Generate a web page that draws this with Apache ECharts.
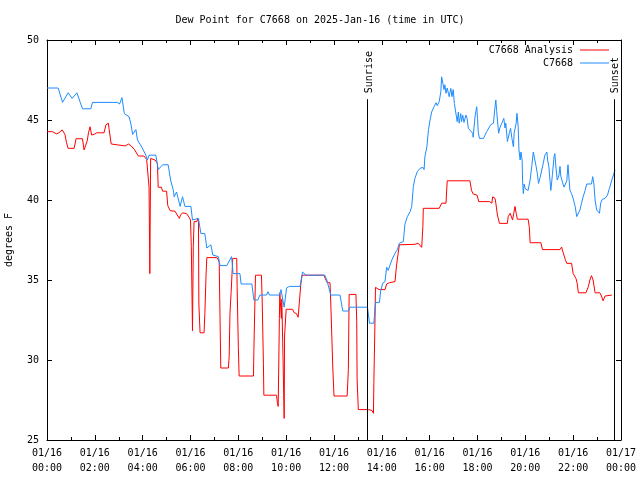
<!DOCTYPE html>
<html><head><meta charset="utf-8">
<script src="https://cdn.jsdelivr.net/npm/echarts@6/dist/echarts.min.js"></script>
<style>html,body{margin:0;padding:0;background:#fff}#c{width:640px;height:480px}</style>
</head><body><div id="c"></div>
<script>
const chartTitle = 'Dew Point for C7668 on 2025-Jan-16 (time in UTC)';
const yAxisTitle = 'degrees F';
const seriesNames = ['C7668 Analysis', 'C7668'];
const xTickLabels = ['01/16\n00:00','01/16\n02:00','01/16\n04:00','01/16\n06:00','01/16\n08:00','01/16\n10:00','01/16\n12:00','01/16\n14:00','01/16\n16:00','01/16\n18:00','01/16\n20:00','01/16\n22:00','01/17\n00:00'];
const yTicks = [25, 30, 35, 40, 45, 50];
// minutes since 2025-01-16 00:00 UTC
const sunriseMin = 804;
const sunsetMin = 1422;
const sunLabels = ['Sunrise', 'Sunset'];

// [minute, dew point F]
const analysisObs = [[0,44.27],[14,44.27],[24,44.13],[30,44.2],[38,44.38],[45,44.1],[49,43.58],[53,43.23],[68,43.23],[73,43.83],[89,43.83],[93,43.13],[98,43.15],[101,43.7],[104,44.2],[108,44.58],[112,44.06],[118,44.1],[125,44.2],[143,44.2],[148,44.7],[154,44.8],[156,44.4],[161,43.5],[166,43.38],[196,43.38],[201,43.3],[205,43.5],[211,43.38],[219,43.17],[223,43.17],[229,42.75],[243,42.75],[250,42.54],[255,42.5],[256,40.8],[258,35.4],[260,42.6],[271,42.5],[277,42.3],[279,40.8],[287,40.8],[290,40.55],[300,40.55],[303,39.65],[309,39.33],[321,39.3],[325,39.2],[332,38.85],[335,39.06],[340,39.2],[350,39.15],[357,38.9],[360,38.75],[362,37.1],[365,31.83],[367,37.1],[369,38.65],[376,38.65],[378,38.85],[380,38.65],[381,33.5],[384,31.7],[394,31.7],[396,32.9],[399,35.3],[401,36.4],[426,36.4],[430,36.25],[432,36.1],[434,32.8],[436,29.5],[455,29.5],[457,30.2],[459,32.9],[462,34.27],[466,36.35],[476,36.35],[477,34.6],[480,30.8],[482,29.0],[518,29.0],[519,30.6],[523,35.3],[538,35.3],[540,33.5],[543,29.7],[544,27.8],[576,27.8],[578,27.3],[580,27.1],[583,32.6],[584,34.2],[586,34.3],[588,32.6],[589,33.8],[591,31.5],[595,26.35],[596,31.5],[600,33.17],[616,33.17],[620,32.96],[626,32.9],[630,32.67],[635,32.67],[637,34.8],[640,35.3],[695,35.3],[698,35.1],[703,34.83],[710,34.83],[712,33.5],[717,29.5],[720,27.75],[753,27.75],[756,29.4],[758,34.1],[775,34.1],[777,32.4],[778,28.75],[781,26.9],[806,26.9],[815,26.85],[819,26.67],[820,28.6],[823,32.7],[824,34.54],[828,34.54],[833,34.4],[848,34.4],[852,34.75],[859,34.83],[873,34.9],[877,35.94],[881,36.67],[884,37.2],[923,37.23],[931,37.3],[936,37.2],[940,37.04],[943,38.33],[944,39.48],[984,39.48],[988,39.6],[990,39.8],[1001,39.8],[1004,41.2],[1061,41.2],[1065,40.6],[1069,40.38],[1079,40.3],[1083,39.9],[1110,39.9],[1116,39.8],[1118,40.2],[1124,40.1],[1126,39.8],[1130,39.06],[1135,38.54],[1155,38.54],[1157,38.96],[1162,39.17],[1165,39.1],[1168,38.75],[1171,39.17],[1174,39.6],[1177,39.17],[1180,38.8],[1207,38.8],[1210,38.3],[1212,37.33],[1239,37.33],[1243,36.9],[1287,36.9],[1291,37.06],[1295,36.7],[1300,36.3],[1304,36.04],[1316,36.04],[1320,35.4],[1327,35.1],[1330,34.8],[1333,34.2],[1352,34.2],[1358,34.58],[1362,35.0],[1366,35.27],[1370,35.0],[1375,34.2],[1387,34.2],[1391,34.0],[1395,33.7],[1400,34.0],[1404,34.0],[1417,34.06]];

const stationObs = [[0,47.0],[28,47.0],[39,46.1],[53,46.7],[63,46.35],[75,46.7],[89,45.7],[110,45.7],[114,46.1],[176,46.1],[182,46.0],[188,46.4],[194,45.4],[206,45.2],[210,44.8],[215,44.1],[223,44.4],[227,43.75],[238,43.3],[248,42.8],[252,42.5],[256,42.8],[263,42.8],[273,42.8],[279,41.9],[290,42.2],[304,42.2],[310,41.25],[317,40.6],[319,40.2],[325,40.5],[334,39.6],[340,40.2],[346,39.6],[361,39.6],[365,38.75],[380,38.85],[386,37.9],[396,37.9],[401,37.0],[411,37.2],[416,36.56],[430,36.46],[434,35.9],[451,35.9],[463,36.46],[467,35.4],[484,35.4],[487,34.75],[514,34.75],[519,33.75],[529,33.75],[534,34.06],[551,34.06],[554,34.27],[558,34.06],[583,34.06],[587,34.4],[595,33.3],[601,34.5],[608,34.6],[635,34.6],[641,35.5],[650,35.3],[697,35.3],[702,35.0],[712,34.06],[735,34.06],[742,33.06],[756,33.06],[760,33.3],[804,33.3],[809,32.3],[820,32.3],[824,33.6],[834,33.6],[837,34.3],[842,34.8],[848,34.9],[852,35.8],[856,35.6],[865,36.25],[873,36.67],[879,36.9],[884,37.3],[894,37.4],[898,38.5],[904,38.96],[911,39.27],[915,39.6],[919,40.83],[923,41.35],[929,41.77],[936,41.98],[943,42.04],[946,41.9],[948,42.7],[953,43.33],[957,44.4],[961,45.0],[965,45.5],[971,45.83],[976,46.08],[979,45.9],[984,46.15],[988,46.77],[990,47.7],[993,47.3],[996,46.9],[998,47.2],[1001,46.67],[1004,47.0],[1007,46.67],[1009,46.46],[1013,46.98],[1016,46.46],[1019,46.9],[1022,46.04],[1025,46.1],[1029,44.9],[1032,45.5],[1034,44.8],[1038,45.4],[1040,44.9],[1043,45.3],[1046,44.85],[1051,45.3],[1054,45.1],[1057,44.48],[1061,44.38],[1068,44.17],[1069,43.92],[1074,45.25],[1078,45.83],[1080,45.1],[1082,44.2],[1085,43.85],[1095,43.85],[1103,44.27],[1113,44.7],[1120,44.8],[1124,45.83],[1126,46.25],[1128,45.6],[1130,45.0],[1133,44.17],[1136,44.5],[1141,44.8],[1146,45.1],[1149,44.5],[1151,44.8],[1155,43.65],[1160,44.2],[1163,44.48],[1166,43.9],[1170,43.33],[1172,44.2],[1177,44.8],[1179,45.42],[1182,44.6],[1184,43.13],[1187,42.5],[1189,43.0],[1192,42.5],[1193,41.25],[1195,40.4],[1197,41.0],[1200,40.7],[1203,40.8],[1207,40.6],[1212,41.25],[1216,42.08],[1220,43.0],[1223,43.0],[1227,42.1],[1230,41.67],[1233,41.04],[1237,41.4],[1241,41.5],[1245,42.3],[1249,42.8],[1254,43.0],[1256,42.5],[1259,42.1],[1262,41.15],[1264,40.6],[1268,41.6],[1272,42.7],[1274,42.9],[1277,42.0],[1280,41.25],[1284,41.5],[1287,42.1],[1289,41.5],[1294,41.04],[1297,40.8],[1300,40.7],[1304,41.2],[1307,42.2],[1310,41.2],[1312,40.6],[1316,40.4],[1320,40.1],[1325,39.6],[1329,38.96],[1333,38.85],[1337,39.38],[1341,39.8],[1345,40.2],[1350,40.6],[1354,41.0],[1366,41.0],[1369,41.46],[1372,41.0],[1375,40.0],[1379,39.38],[1383,39.38],[1386,39.17],[1389,39.8],[1393,40.04],[1400,40.1],[1406,40.3],[1411,40.73],[1417,41.25],[1421,41.56],[1425,41.88]];

const FONT = 'DejaVu Sans Mono';
const chart = echarts.init(document.getElementById('c'), null, {renderer: 'canvas'});
const xCommon = {
  type: 'value', min: 0, max: 1440, interval: 120,
  axisLine: {show: true, onZero: false, lineStyle: {color: '#000', width: 1}},
  axisTick: {show: true, inside: true, length: 5, lineStyle: {color: '#000'}},
  minorTick: {show: true, splitNumber: 2, length: 3, lineStyle: {color: '#000'}},
  splitLine: {show: false}
};
const yCommon = {
  type: 'value', min: yTicks[0], max: yTicks[yTicks.length - 1], interval: yTicks[1] - yTicks[0],
  axisLine: {show: true, onZero: false, lineStyle: {color: '#000', width: 1}},
  axisTick: {show: true, inside: true, length: 5, lineStyle: {color: '#000'}},
  splitLine: {show: false}
};
const option = {
  animation: false,
  backgroundColor: '#fff',
  textStyle: {fontFamily: FONT},
  title: {text: chartTitle, left: 'center', top: 10,
    textStyle: {fontFamily: FONT, fontSize: 10, fontWeight: 'normal', color: '#000'}},
  grid: {left: 47, right: 19, top: 40, bottom: 40, show: false, containLabel: false, outerBoundsMode: 'none'},
  legend: {
    orient: 'vertical', right: 26, top: 40, align: 'right',
    icon: 'rect', itemWidth: 29, itemHeight: 1, itemGap: 3,
    textStyle: {fontFamily: FONT, fontSize: 10, color: '#000', lineHeight: 10, padding: [0, 2, 0, 0]},
    data: seriesNames
  },
  xAxis: [
    Object.assign({}, xCommon, {position: 'bottom',
      axisLabel: {show: true, color: '#000', fontFamily: FONT, fontSize: 10, lineHeight: 15, margin: 6,
        formatter: v => xTickLabels[Math.round(v / 120)]}}),
    Object.assign({}, xCommon, {position: 'top', axisLabel: {show: false}})
  ],
  yAxis: [
    Object.assign({}, yCommon, {position: 'left', name: yAxisTitle, nameLocation: 'middle', nameRotate: 90, nameGap: 33,
      nameTextStyle: {fontFamily: FONT, fontSize: 10, color: '#000'},
      axisLabel: {show: true, color: '#000', fontFamily: FONT, fontSize: 10, margin: 8}}),
    Object.assign({}, yCommon, {position: 'right', axisLabel: {show: false}})
  ],
  series: [
    {name: seriesNames[0], type: 'line', data: analysisObs, symbol: 'none', showSymbol: false,
      lineStyle: {color: '#ff0000', width: 1}, itemStyle: {color: '#ff0000'},
      markLine: {silent: true, symbol: 'none', animation: false,
        lineStyle: {color: '#000', width: 1, type: 'solid'}, label: {show: false},
        data: [
          [{coord: [sunriseMin, 46.3]}, {coord: [sunriseMin, yTicks[0]]}],
          [{coord: [sunsetMin, 46.3]}, {coord: [sunsetMin, yTicks[0]]}]
        ]}},
    {name: seriesNames[1], type: 'line', data: stationObs, symbol: 'none', showSymbol: false,
      lineStyle: {color: '#1e8cff', width: 1}, itemStyle: {color: '#1e8cff'}}
  ]
};
chart.setOption(option);
const pR = chart.convertToPixel({xAxisIndex: 0, yAxisIndex: 0}, [sunriseMin, 46.3]);
const pS = chart.convertToPixel({xAxisIndex: 0, yAxisIndex: 0}, [sunsetMin, 46.3]);
chart.setOption({
  graphic: [
    {type: 'text', x: pR[0] + 1.5, y: pR[1] - 6, rotation: Math.PI / 2,
      style: {text: sunLabels[0], font: '10px ' + FONT, fill: '#000', align: 'left', verticalAlign: 'middle'}},
    {type: 'text', x: pS[0] + 2, y: pS[1] - 6, rotation: Math.PI / 2,
      style: {text: sunLabels[1], font: '10px ' + FONT, fill: '#000', align: 'left', verticalAlign: 'middle'}}
  ]
});
</script>
</body></html>
